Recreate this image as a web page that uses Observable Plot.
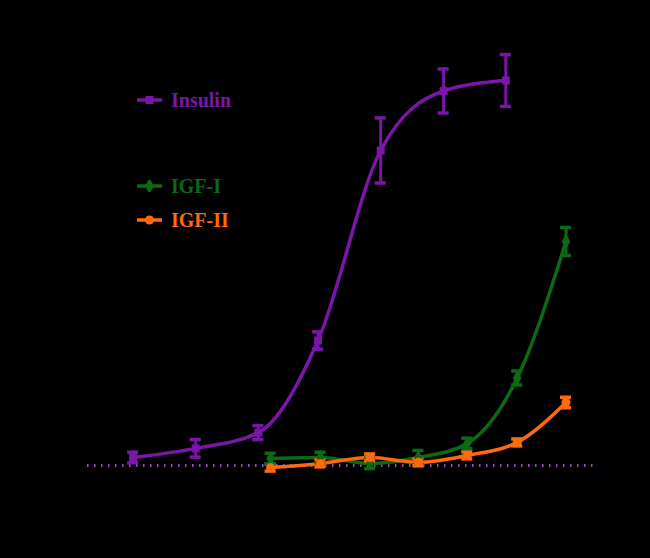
<!DOCTYPE html>
<html><head><meta charset="utf-8">
<script src="https://cdn.jsdelivr.net/npm/d3@7"></script>
<script src="https://cdn.jsdelivr.net/npm/@observablehq/plot@0.6"></script>
<style>
html,body{margin:0;padding:0;background:#000;}
#wrap{position:relative;width:650px;height:558px;background:#000;overflow:hidden;}
#wrap > svg{position:absolute;left:0;top:0;}
.lg{position:absolute;left:136px;display:flex;align-items:center;height:22px;font-family:"Liberation Serif",serif;font-weight:bold;font-size:20px;white-space:nowrap;}
.lg svg{margin-right:8px;}
#title{position:absolute;left:93px;top:14px;font-family:"Liberation Sans",sans-serif;font-size:16px;color:#000;white-space:nowrap;}
</style></head><body><div id="wrap"><div id="title">Insulin Receptor Phosphorylation</div></div>
<script>
// ---- data ----
const insulinConc = [0.03, 0.12, 0.48, 1.8, 7.2, 29, 115];
const insulinResp = [2.3, 4.9, 9.4, 35.7, 90, 107, 110];
const insulinErr  = [1.5, 2.5, 2, 2.5, 9.3, 6.3, 7.4];
const igfConc  = [0.63, 1.9, 5.7, 16.6, 49, 148, 436];
const igf1Resp = [2, 2.3, 0.6, 2.3, 6.3, 25, 64];
const igf1Err  = [1.5, 1.5, 1.5, 2, 1.5, 2, 4];
const igf2Resp = [-0.6, 0.6, 2.3, 0.9, 2.9, 6.6, 18];
const igf2Err  = [1, 1, 1, 1, 1, 1, 1.5];
const seriesNames = ["Insulin", "IGF-I", "IGF-II"];
const seriesColors = ["#7a16a8", "#0b6a12", "#ff6a0c"];
const seriesSymbols = ["square", "diamond", "circle"];
const xTicks = [0.01, 0.1, 1, 10, 100, 1000];
const yTicks = [0, 20, 40, 60, 80, 100, 120];
const legendNote = ["Insulin Receptor (human),", "recombinant"];

const rows = [];
insulinConc.forEach((c, i) => rows.push({series: seriesNames[0], conc: c, resp: insulinResp[i], err: insulinErr[i]}));
igfConc.forEach((c, i) => rows.push({series: seriesNames[1], conc: c, resp: igf1Resp[i], err: igf1Err[i]}));
igfConc.forEach((c, i) => rows.push({series: seriesNames[2], conc: c, resp: igf2Resp[i], err: igf2Err[i]}));

const minorTicks = d3.scaleLog().domain([0.01, 1000]).ticks().filter(t => !xTicks.includes(t));
const capF = 1.13;

const chart = Plot.plot({
  width: 650, height: 558,
  marginLeft: 83, marginRight: 47, marginTop: 45, marginBottom: 65,
  style: {background: "#000", color: "#000", fontFamily: "Liberation Sans, sans-serif", fontSize: "14px"},
  x: {type: "log", domain: [0.01, 1000]},
  y: {domain: [-8, 120]},
  color: {domain: seriesNames, range: seriesColors},
  symbol: {domain: seriesNames, range: seriesSymbols},
  marks: [
    Plot.ruleY([0], {stroke: "#9a4cc4", strokeWidth: 3, strokeDasharray: "1.5,5.5", insetLeft: 4, insetRight: 5}),
    Plot.axisX({ticks: xTicks, tickFormat: d => String(d), tickSize: 6, stroke: "#000", fill: "#000", label: "Concentration (nM)", labelAnchor: "center", labelOffset: 40, fontSize: 14}),
    Plot.axisX({ticks: minorTicks, tickFormat: () => "", tickSize: 3, stroke: "#000", label: null}),
    Plot.axisY({ticks: yTicks, tickSize: 6, stroke: "#000", fill: "#000", label: "Response (% of max)", labelAnchor: "center", labelOffset: 55, fontSize: 14}),
    Plot.ruleY([-8], {stroke: "#000"}),
    Plot.ruleX([0.01], {stroke: "#000"}),
    Plot.line(rows, {x: "conc", y: "resp", z: "series", stroke: "series", strokeWidth: 3.5, curve: "monotone-x"}),
    Plot.ruleX(rows, {x: "conc", y1: d => d.resp - d.err, y2: d => d.resp + d.err, stroke: "series", strokeWidth: 3}),
    Plot.ruleY(rows, {y: d => d.resp + d.err, x1: d => d.conc / capF, x2: d => d.conc * capF, stroke: "series", strokeWidth: 3.5}),
    Plot.ruleY(rows, {y: d => d.resp - d.err, x1: d => d.conc / capF, x2: d => d.conc * capF, stroke: "series", strokeWidth: 3.5}),
    Plot.dot(rows, {x: "conc", y: "resp", fill: "series", symbol: "series", r: 4.5, stroke: "none"})
  ]
});
const wrap = document.getElementById("wrap");
wrap.prepend(chart);

// legend
const symPath = {square: d3.symbol(d3.symbolSquare, 64)(), diamond: d3.symbol(d3.symbolDiamond, 70)(), circle: d3.symbol(d3.symbolCircle, 64)()};
const legendTops = [89, 175, 209];
seriesNames.forEach((name, i) => {
  const div = document.createElement("div");
  div.className = "lg";
  div.style.top = legendTops[i] + "px";
  const c = seriesColors[i];
  div.innerHTML = `<svg width="27" height="12"><line x1="1" y1="6" x2="26" y2="6" stroke="${c}" stroke-width="3.5"/><path transform="translate(13.5,6)" d="${symPath[seriesSymbols[i]]}" fill="${c}"/></svg><span style="color:${c}">${name}</span>`;
  wrap.appendChild(div);
});
const note = document.createElement("div");
note.className = "lg";
note.style.top = "114px";
note.style.height = "42px";
note.style.left = "173px";
note.innerHTML = `<span style="color:#000;font-weight:normal;font-size:15px;line-height:20px">${legendNote[0]}<br>${legendNote[1]}</span>`;
wrap.appendChild(note);
</script>
</body></html>
